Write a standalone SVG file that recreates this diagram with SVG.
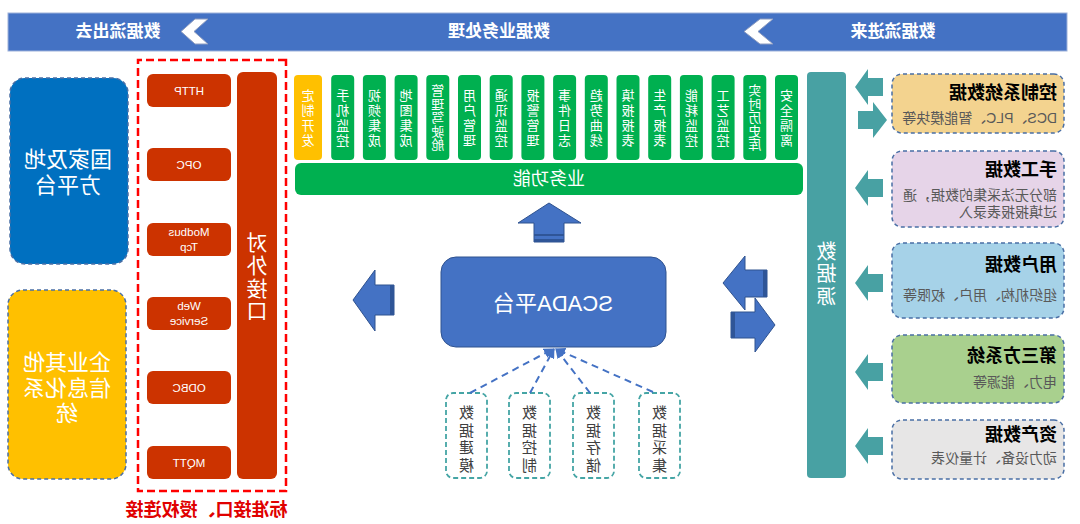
<svg xmlns="http://www.w3.org/2000/svg" width="1080" height="524" viewBox="0 0 1080 524">
<defs>
<style>
text{font-family:"Liberation Sans","Noto Sans CJK SC",sans-serif;dominant-baseline:central}
.hdr{fill:#fff;font-size:17px;font-weight:bold;text-anchor:middle}
.gb{fill:#00B050}
.gt{fill:#fff;font-size:13px;text-anchor:middle}
.src{stroke:#4A6FA5;stroke-width:1.5;stroke-dasharray:4 3}
.st{fill:#000;font-size:18px;font-weight:bold}
.ss{fill:#595959;font-size:14px}
.ta{fill:#48A1A3}
.ba{fill:#4472C4;stroke:#2F528F;stroke-width:1}
.stripe{fill:#2F5597}
.pb{fill:#CC3300}
.pt{fill:#fff;font-size:11.5px;text-anchor:middle}
.bt{fill:#fff;font-size:22px;text-anchor:middle}
.fb{fill:#fff;stroke:#45A5A5;stroke-width:1.8;stroke-dasharray:5 3}
.ft{fill:#404040;font-size:15px;text-anchor:middle}
.dl{stroke:#4472C4;stroke-width:2;stroke-dasharray:7 5;fill:none}
</style>
<marker id="ah" viewBox="0 0 10 10" refX="9" refY="5" markerWidth="5" markerHeight="5" orient="auto">
<path d="M0,0 L10,5 L0,10 z" fill="#4472C4"/>
</marker>
</defs>
<g transform="matrix(-1 0 0 1 1080 0)">
<g id="header">
<rect x="13" y="13" width="1059" height="38" fill="#4472C4" stroke="#9DB1DA" stroke-width="1"/>
<text class="hdr" x="187" y="31">数据流进来</text>
<polygon points="307,19 320,19 336,31.5 320,44 307,44 322,31.5" fill="#fff" stroke="#8C9BBF" stroke-width="1"/>
<text class="hdr" x="581" y="31">数据业务处理</text>
<polygon points="872,19 885,19 899,31.5 885,44 872,44 886,31.5" fill="#fff" stroke="#8C9BBF" stroke-width="1"/>
<text class="hdr" x="962" y="31">数据流出去</text>
</g>
<g id="src-control">
<rect class="src" x="16" y="74" width="172" height="59" rx="10" fill="#F3D38F"/>
<text class="st" x="23" y="93">控制系统数据</text>
<text class="ss" x="23" y="118">DCS、PLC、智能模块等</text>
</g>
<g id="src-manual">
<rect class="src" x="16" y="151" width="172" height="76" rx="10" fill="#E6D4E8"/>
<text class="st" x="23" y="170">手工数据</text>
<text class="ss" x="23" y="195">部分无法采集的数据，通</text>
<text class="ss" x="23" y="212">过填报报表录入</text>
</g>
<g id="src-user">
<rect class="src" x="16" y="243" width="172" height="75" rx="10" fill="#A6D2E8"/>
<text class="st" x="23" y="265">用户数据</text>
<text class="ss" x="23" y="295">组织机构、用户、权限等</text>
</g>
<g id="src-third">
<rect class="src" x="16" y="335" width="172" height="68" rx="10" fill="#A9D08E"/>
<text class="st" x="23" y="356">第三方系统</text>
<text class="ss" x="23" y="382">电力、能源等</text>
</g>
<g id="src-asset">
<rect class="src" x="16" y="420" width="172" height="59" rx="10" fill="#E7E6E6"/>
<text class="st" x="23" y="435">资产数据</text>
<text class="ss" x="23" y="458">动力设备、计量仪表</text>
</g>
<g id="datasource">
<rect class="ta" x="234" y="72" width="39" height="406" rx="4"/>
<text x="253.5" y="252" fill="#fff" font-size="20" text-anchor="middle">数</text>
<text x="253.5" y="274" fill="#fff" font-size="20" text-anchor="middle">据</text>
<text x="253.5" y="297" fill="#fff" font-size="20" text-anchor="middle">源</text>
</g>
<g id="functions">
<g><rect class="gb" x="282" y="75" width="23" height="85" rx="4"/><text class="gt" x="293.5"><tspan x="293.5" y="95">安</tspan><tspan x="293.5" y="110">全</tspan><tspan x="293.5" y="125">隔</tspan><tspan x="293.5" y="140">离</tspan></text></g>
<g><rect class="gb" x="313.7" y="75" width="23" height="85" rx="4"/><text class="gt"><tspan x="325.2" y="90">实</tspan><tspan x="325.2" y="103.5">时</tspan><tspan x="325.2" y="117">历</tspan><tspan x="325.2" y="130.5">史</tspan><tspan x="325.2" y="144">库</tspan></text></g>
<g><rect class="gb" x="345.4" y="75" width="23" height="85" rx="4"/><text class="gt"><tspan x="356.9" y="95">工</tspan><tspan x="356.9" y="110">艺</tspan><tspan x="356.9" y="125">监</tspan><tspan x="356.9" y="140">控</tspan></text></g>
<g><rect class="gb" x="377.1" y="75" width="23" height="85" rx="4"/><text class="gt"><tspan x="388.6" y="95">能</tspan><tspan x="388.6" y="110">耗</tspan><tspan x="388.6" y="125">监</tspan><tspan x="388.6" y="140">控</tspan></text></g>
<g><rect class="gb" x="408.8" y="75" width="23" height="85" rx="4"/><text class="gt"><tspan x="420.3" y="95">生</tspan><tspan x="420.3" y="110">产</tspan><tspan x="420.3" y="125">报</tspan><tspan x="420.3" y="140">表</tspan></text></g>
<g><rect class="gb" x="440.5" y="75" width="23" height="85" rx="4"/><text class="gt"><tspan x="452" y="95">填</tspan><tspan x="452" y="110">报</tspan><tspan x="452" y="125">报</tspan><tspan x="452" y="140">表</tspan></text></g>
<g><rect class="gb" x="472.2" y="75" width="23" height="85" rx="4"/><text class="gt"><tspan x="483.7" y="95">趋</tspan><tspan x="483.7" y="110">势</tspan><tspan x="483.7" y="125">曲</tspan><tspan x="483.7" y="140">线</tspan></text></g>
<g><rect class="gb" x="503.9" y="75" width="23" height="85" rx="4"/><text class="gt"><tspan x="515.4" y="95">事</tspan><tspan x="515.4" y="110">件</tspan><tspan x="515.4" y="125">日</tspan><tspan x="515.4" y="140">志</tspan></text></g>
<g><rect class="gb" x="535.6" y="75" width="23" height="85" rx="4"/><text class="gt"><tspan x="547.1" y="95">报</tspan><tspan x="547.1" y="110">警</tspan><tspan x="547.1" y="125">管</tspan><tspan x="547.1" y="140">理</tspan></text></g>
<g><rect class="gb" x="567.3" y="75" width="23" height="85" rx="4"/><text class="gt"><tspan x="578.8" y="95">通</tspan><tspan x="578.8" y="110">讯</tspan><tspan x="578.8" y="125">监</tspan><tspan x="578.8" y="140">控</tspan></text></g>
<g><rect class="gb" x="599" y="75" width="23" height="85" rx="4"/><text class="gt"><tspan x="610.5" y="95">用</tspan><tspan x="610.5" y="110">户</tspan><tspan x="610.5" y="125">管</tspan><tspan x="610.5" y="140">理</tspan></text></g>
<g><rect class="gb" x="630.7" y="75" width="23" height="85" rx="4"/><text class="gt"><tspan x="642.2" y="90">管</tspan><tspan x="642.2" y="103.5">理</tspan><tspan x="642.2" y="117">驾</tspan><tspan x="642.2" y="130.5">驶</tspan><tspan x="642.2" y="144">舱</tspan></text></g>
<g><rect class="gb" x="662.4" y="75" width="23" height="85" rx="4"/><text class="gt"><tspan x="673.9" y="95">地</tspan><tspan x="673.9" y="110">图</tspan><tspan x="673.9" y="125">集</tspan><tspan x="673.9" y="140">成</tspan></text></g>
<g><rect class="gb" x="694.1" y="75" width="23" height="85" rx="4"/><text class="gt"><tspan x="705.6" y="95">视</tspan><tspan x="705.6" y="110">频</tspan><tspan x="705.6" y="125">集</tspan><tspan x="705.6" y="140">成</tspan></text></g>
<g><rect class="gb" x="725.8" y="75" width="23" height="85" rx="4"/><text class="gt"><tspan x="737.3" y="95">手</tspan><tspan x="737.3" y="110">机</tspan><tspan x="737.3" y="125">监</tspan><tspan x="737.3" y="140">控</tspan></text></g>
<g><rect x="758" y="75" width="28" height="85" rx="4" fill="#FFC000"/><text class="gt"><tspan x="772" y="95">定</tspan><tspan x="772" y="110">制</tspan><tspan x="772" y="125">开</tspan><tspan x="772" y="140">发</tspan></text></g>
</g>
<g id="business">
<rect class="gb" x="277" y="163" width="508" height="32" rx="6"/>
<text x="531" y="179" fill="#fff" font-size="18" text-anchor="middle">业务功能</text>
</g>
<g id="scada">
<rect x="414" y="257" width="225" height="90" rx="15" fill="#4472C4" stroke="#2F528F" stroke-width="1"/>
<text x="527" y="303" fill="#fff" font-size="22" text-anchor="middle">SCADA平台</text>
</g>
<g id="funcs-low">
<g><rect class="fb" x="400" y="393" width="41" height="85" rx="7"/><text class="ft"><tspan x="420.5" y="412">数</tspan><tspan x="420.5" y="430">据</tspan><tspan x="420.5" y="447">采</tspan><tspan x="420.5" y="465">集</tspan></text></g>
<g><rect class="fb" x="466" y="393" width="41" height="85" rx="7"/><text class="ft"><tspan x="486.5" y="412">数</tspan><tspan x="486.5" y="430">据</tspan><tspan x="486.5" y="447">存</tspan><tspan x="486.5" y="465">储</tspan></text></g>
<g><rect class="fb" x="530" y="393" width="41" height="85" rx="7"/><text class="ft"><tspan x="550.5" y="412">数</tspan><tspan x="550.5" y="430">据</tspan><tspan x="550.5" y="447">控</tspan><tspan x="550.5" y="465">制</tspan></text></g>
<g><rect class="fb" x="593" y="393" width="41" height="85" rx="7"/><text class="ft"><tspan x="613.5" y="412">数</tspan><tspan x="613.5" y="430">据</tspan><tspan x="613.5" y="447">建</tspan><tspan x="613.5" y="465">模</tspan></text></g>
</g>
<g id="outer-platform">
<rect class="src" x="952" y="78" width="118" height="186" rx="15" fill="#0070C0"/>
<text class="bt" x="1012" y="159">国家及地</text>
<text class="bt" x="1012" y="185">方平台</text>
</g>
<g id="enterprise">
<rect class="src" x="954" y="290" width="118" height="189" rx="15" fill="#FFC000"/>
<text class="bt" x="1013" y="362">企业其他</text>
<text class="bt" x="1013" y="388">信息化系</text>
<text class="bt" x="1013" y="413">统</text>
</g>
<g id="interface">
<rect x="794" y="60" width="148" height="431" fill="none" stroke="#FF0000" stroke-width="2.5" stroke-dasharray="8 4"/>
<rect class="pb" x="803" y="72" width="40" height="407" rx="6"/>
<text x="823" y="242" fill="#fff" font-size="21" text-anchor="middle">对</text>
<text x="823" y="265" fill="#fff" font-size="21" text-anchor="middle">外</text>
<text x="823" y="288" fill="#fff" font-size="21" text-anchor="middle">接</text>
<text x="823" y="310" fill="#fff" font-size="21" text-anchor="middle">口</text>
<g><rect class="pb" x="849" y="74" width="84" height="33" rx="6"/><text class="pt" x="891" y="90.5">HTTP</text></g>
<g><rect class="pb" x="849" y="148" width="84" height="33" rx="6"/><text class="pt" x="891" y="164.5">OPC</text></g>
<g><rect class="pb" x="849" y="223" width="84" height="33" rx="6"/><text class="pt" x="891" y="232">Modbus</text><text class="pt" x="891" y="247">Tcp</text></g>
<g><rect class="pb" x="849" y="297" width="84" height="33" rx="6"/><text class="pt" x="891" y="306">Web</text><text class="pt" x="891" y="321">Service</text></g>
<g><rect class="pb" x="849" y="371" width="84" height="33" rx="6"/><text class="pt" x="891" y="388">ODBC</text></g>
<g><rect class="pb" x="849" y="446" width="84" height="33" rx="6"/><text class="pt" x="891" y="462.5">MQTT</text></g>
<text x="873.5" y="510" fill="#E00000" font-size="18" font-weight="bold" text-anchor="middle">标准接口、授权连接</text>
</g>
<g id="connectors">
<polygon class="ta" points="197,78 212,78 212,69 225,87 212,105 212,96 197,96"/>
<polygon class="ta" points="222,111 207,111 207,102 193,120 207,138 207,129 222,129"/>
<polygon class="ta" points="197,179 212,179 212,170 225,188 212,206 212,197 197,197"/>
<polygon class="ta" points="197,274 212,274 212,265 225,283 212,301 212,292 197,292"/>
<polygon class="ta" points="197,363 212,363 212,354 225,372 212,390 212,381 197,381"/>
<polygon class="ta" points="197,437 212,437 212,428 225,446 212,464 212,455 197,455"/>
<polygon class="ba" points="313,270 335,270 335,256 357,283 335,310 335,297 313,297"/>
<rect class="stripe" x="313" y="270" width="4" height="27"/>
<polygon class="ba" points="349,312 325,312 325,298 305,325 325,352 325,338 349,338"/>
<rect class="stripe" x="345" y="312" width="4" height="26"/>
<polygon class="ba" points="516,242 516,223 499,223 531,203 562,223 546,223 546,242"/>
<rect class="stripe" x="516" y="234" width="30" height="2"/>
<rect class="stripe" x="516" y="239" width="30" height="3"/>
<polygon class="ba" points="686,285 705,285 705,270 727,300 705,331 705,315 686,315"/>
<rect class="stripe" x="686" y="285" width="4" height="30"/>
<line class="dl" x1="427" y1="392" x2="524" y2="349" marker-end="url(#ah)"/>
<line class="dl" x1="490" y1="393" x2="524" y2="349" marker-end="url(#ah)"/>
<line class="dl" x1="550" y1="393" x2="526" y2="349" marker-end="url(#ah)"/>
<line class="dl" x1="610" y1="393" x2="527" y2="349" marker-end="url(#ah)"/>
</g>
</g>
</svg>
